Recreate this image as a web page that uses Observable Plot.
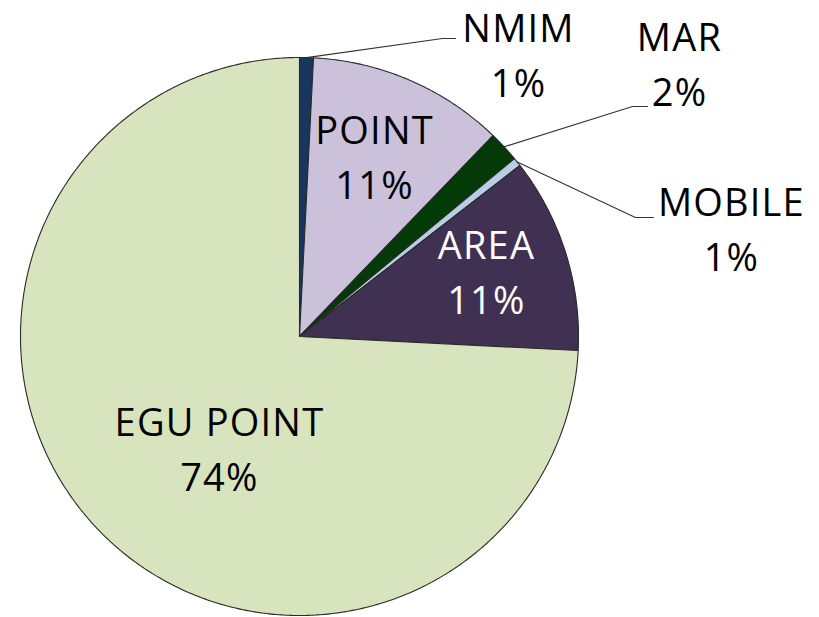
<!DOCTYPE html>
<html>
<head>
<meta charset="utf-8">
<script src="https://cdn.jsdelivr.net/npm/d3@7"></script>
<script src="https://cdn.jsdelivr.net/npm/@observablehq/plot@0.6"></script>
<style>
  html, body { margin: 0; padding: 0; background: #ffffff; }
  #chart svg { display: block; }
</style>
</head>
<body>
<div id="chart"></div>
<script>
// ---- data (clockwise from 12 o'clock) ----
const categories = ["NMIM", "POINT", "MAR", "MOBILE", "AREA", "EGU POINT"];
const shares = [0.8, 11.4, 1.8, 0.5, 11.3, 74.2];
const percentLabels = ["1%", "11%", "2%", "1%", "11%", "74%"];

// ---- styles ----
const sliceColors = ["#17375e", "#ccc1da", "#033a07", "#b9cde5", "#403152", "#d7e4bd"];
const labelColors = ["#000000", "#000000", "#000000", "#000000", "#ffffff", "#000000"];

// ---- layout (unit circle coordinates: pie radius = 1, centre = 0,0) ----
const labelLayout = {
  "NMIM": [0.785, 1.020],
  "POINT": [0.269, 0.654],
  "MAR": [1.362, 0.989],
  "MOBILE": [1.548, 0.398],
  "AREA": [0.670, 0.244],
  "EGU POINT": [-0.287, -0.392]
};
const leaderLayout = {
  "NMIM": [[0.5125, 1.068], [0.559, 1.068]],
  "MAR": [[1.1935, 0.8244], [1.247, 0.8244]],
  "MOBILE": [[1.204, 0.4265], [1.269, 0.4265]]
};

// ---- geometry derived from the data ----
const total = d3.sum(shares);
const slices = [];
let cum = 0;
categories.forEach((name, i) => {
  const a0 = (cum / total) * 2 * Math.PI;
  cum += shares[i];
  const a1 = (cum / total) * 2 * Math.PI;
  slices.push({name, a0, a1, mid: (a0 + a1) / 2, color: sliceColors[i], i});
});

const slicePoints = [];
for (const s of slices) {
  slicePoints.push({name: s.name, x: 0, y: 0, color: s.color});
  const n = Math.max(2, Math.ceil((s.a1 - s.a0) / (Math.PI / 360)));
  for (let k = 0; k <= n; k++) {
    const a = s.a0 + (s.a1 - s.a0) * k / n;
    slicePoints.push({name: s.name, x: Math.sin(a), y: Math.cos(a), color: s.color});
  }
  slicePoints.push({name: s.name, x: 0, y: 0, color: s.color});
}

const leaderPoints = [];
for (const s of slices) {
  const lay = leaderLayout[s.name];
  if (!lay) continue;
  leaderPoints.push({name: s.name, x: Math.sin(s.mid), y: Math.cos(s.mid)});
  for (const p of lay) leaderPoints.push({name: s.name, x: p[0], y: p[1]});
}

const labels = slices.map(s => ({
  name: s.name,
  text: s.name + "\n" + percentLabels[s.i],
  x: labelLayout[s.name][0],
  y: labelLayout[s.name][1],
  fill: labelColors[s.i]
}));

// pie centre at (299, 336) px, radius 279 px in a 819x617 frame
const W = 819, H = 617, CX = 299, CY = 336, R = 279;

const chart = Plot.plot({
  width: W,
  height: H,
  margin: 0,
  style: {background: "#ffffff", letterSpacing: "1.2px"},
  x: {domain: [-CX / R, (W - CX) / R], axis: null},
  y: {domain: [-(H - CY) / R, CY / R], axis: null},
  color: {type: "identity"},
  marks: [
    Plot.line(slicePoints, {
      x: "x", y: "y", z: "name",
      fill: "color", stroke: "#2a2a2a", strokeWidth: 1.1, curve: "linear", strokeLinejoin: "round"
    }),
    Plot.line(leaderPoints, {
      x: "x", y: "y", z: "name",
      stroke: "#333333", strokeWidth: 1.1, curve: "linear"
    }),
    Plot.text(labels, {
      x: "x", y: "y", text: "text", fill: "fill",
      fontFamily: "Open Sans", fontSize: 38, lineHeight: 1.447, textAnchor: "middle"
    })
  ]
});
document.getElementById("chart").appendChild(chart);
</script>
</body>
</html>
